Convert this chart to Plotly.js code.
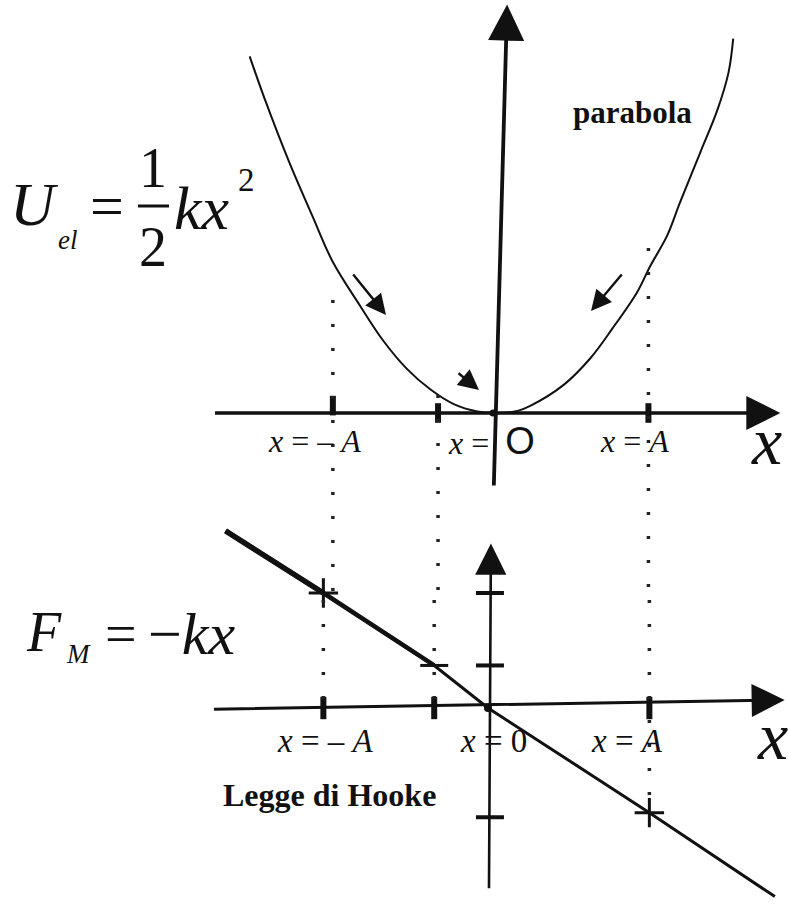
<!DOCTYPE html>
<html>
<head>
<meta charset="utf-8">
<script src="https://cdn.plot.ly/plotly-3.0.1.min.js"></script>
<style>html,body{margin:0;padding:0;background:#fff;}#plot{width:788px;height:905px;}</style>
</head>
<body>
<div id="plot"></div>
<script>
// ---- data (x in units of A) ----
// Top: elastic potential energy U_el (in units of kA^2/2)
const parabolaX = [-1.55, -1.45, -1.30, -1.15, -1.02, -0.85, -0.70, -0.55, -0.40, -0.25, -0.10, 0.00,
                    0.14, 0.24, 0.45, 0.62, 0.76, 0.92, 1.00, 1.11, 1.19, 1.32, 1.43, 1.50, 1.53];
const parabolaU = [2.41, 2.11, 1.70, 1.33, 1.02, 0.73, 0.49, 0.30, 0.16, 0.06, 0.01, 0.00,
                    0.01, 0.05, 0.19, 0.37, 0.57, 0.82, 0.99, 1.20, 1.42, 1.76, 2.05, 2.30, 2.53];
// Bottom: Hooke's law F_M (in units of kA)
const hookeX = [-1.61, -1.01, -0.33, 0.00, 0.99, 1.76];
const hookeF = [ 1.54,  1.00,  0.37, 0.00, -0.91, -1.64];
// marked positions on the x axes
const tickXTop = [-1.02, -0.35, 0.99];
const tickUTop = [0.05, 0.00, 0.00];
const tickXBot = [-1.01, -0.33, 0.99];
// marks on the vertical F axis
const tickFBot = [1.00, 0.37, -0.95];
// starred points on the Hooke line
const starX = [-1.01, 0.99];
const starF = [1.00, -0.91];
const midStarX = [-0.33];
const midStarF = [0.37];
// position labels (at x = -A, 0, A)
const labelXTop = [-1.02, 0, 0.99];
const labelXBot = [-1.01, 0, 0.99];
const labelsTop = ['<i>x</i> = \u2013 <i>A</i>',
                   '<i>x</i> =  <span style="font-family:Liberation Sans;font-size:38px">O</span>',
                   '<i>x</i> = <i>A</i>'];
const labelsBot = ['<i>x</i> = \u2013 <i>A</i>', '<i>x</i> = 0', '<i>x</i> = <i>A</i>'];

// ---- layout helpers ----
const W = 788, H = 905;
const PX = v => v / W, PY = v => 1 - v / H;
const ink = '#111';
const serif = 'Liberation Serif';

const traces = [];
// parabola
traces.push({x: parabolaX, y: parabolaU, xaxis: 'x', yaxis: 'y', mode: 'lines',
  line: {color: ink, width: 2, shape: 'spline', smoothing: 1}, hoverinfo: 'skip'});
// tick blobs top
traces.push({x: tickXTop, y: tickUTop, xaxis: 'x', yaxis: 'y', mode: 'markers',
  marker: {symbol: 'line-ns', size: 14, line: {color: ink, width: 6}}, hoverinfo: 'skip'});
// Hooke line (thicker on the left part)
traces.push({x: hookeX, y: hookeF, xaxis: 'x2', yaxis: 'y2', mode: 'lines',
  line: {color: ink, width: 3}, hoverinfo: 'skip'});
traces.push({x: hookeX.slice(0, 3), y: hookeF.slice(0, 3), xaxis: 'x2', yaxis: 'y2', mode: 'lines',
  line: {color: ink, width: 4.5}, hoverinfo: 'skip'});
traces.push({x: hookeX.slice(0, 2), y: hookeF.slice(0, 2), xaxis: 'x2', yaxis: 'y2', mode: 'lines',
  line: {color: ink, width: 5.5}, hoverinfo: 'skip'});
// ticks bottom
traces.push({x: tickXBot, y: [0, 0, 0], xaxis: 'x2', yaxis: 'y2', mode: 'markers',
  marker: {symbol: 'line-ns', size: 16, line: {color: ink, width: 6}}, hoverinfo: 'skip'});
traces.push({x: tickFBot.map(() => 0.012), y: tickFBot, xaxis: 'x2', yaxis: 'y2', mode: 'markers',
  marker: {symbol: 'line-ew', size: 20, line: {color: ink, width: 4}}, hoverinfo: 'skip'});
traces.push({x: starX, y: starF, xaxis: 'x2', yaxis: 'y2', mode: 'markers',
  marker: {symbol: 'cross-thin', size: 21, line: {color: ink, width: 3}}, hoverinfo: 'skip'});
traces.push({x: midStarX, y: midStarF, xaxis: 'x2', yaxis: 'y2', mode: 'markers',
  marker: {symbol: 'line-ew', size: 20, line: {color: ink, width: 3}}, hoverinfo: 'skip'});
traces.push({x: [0], y: [0], xaxis: 'x2', yaxis: 'y2', mode: 'markers',
  marker: {symbol: 'circle', size: 8, color: ink}, hoverinfo: 'skip'});
traces.push({x: [0], y: [0], xaxis: 'x', yaxis: 'y', mode: 'markers',
  marker: {symbol: 'circle', size: 7, color: ink}, hoverinfo: 'skip'});

const ann = [];
// axis arrows (data coordinates)
function axisArrow(xr, yr, x0, y0, x1, y1, w, s) {
  ann.push({xref: xr, yref: yr, axref: xr, ayref: yr, x: x1, y: y1, ax: x0, ay: y0,
    showarrow: true, arrowhead: 2, arrowsize: s, arrowwidth: w, arrowcolor: ink, standoff: 0, text: ''});
}
axisArrow('x', 'y', -1.78, 0, 1.83, 0, 3.4, 2.0);
axisArrow('x', 'y', 0.005, -0.50, 0.09, 2.76, 3.8, 1.9);
axisArrow('x2', 'y2', -1.69, -0.01, 1.82, 0.07, 3, 2.2);
axisArrow('x2', 'y2', 0.006, -1.58, 0.018, 1.43, 2.6, 2.4);

// small motion arrows on the parabola (pixel offsets)
function motion(hx, hy, dx, dy) {
  ann.push({xref: 'paper', yref: 'paper', x: PX(hx), y: PY(hy), ax: dx, ay: dy,
    showarrow: true, arrowhead: 2, arrowsize: 1.7, arrowwidth: 2.4, arrowcolor: ink, standoff: 0, text: ''});
}
motion(386, 315, -34, -42);
motion(479, 390, -22, -18);
motion(591, 311, 32, -38);

// axis position labels
labelXTop.forEach((v, i) => ann.push({xref: 'x', yref: 'y', x: v, y: 0, yshift: -28, xshift: [-18, -2, -14][i],
  xanchor: 'center', yanchor: 'middle',
  text: labelsTop[i], showarrow: false, font: {family: serif, size: 32, color: ink}}));
labelXBot.forEach((v, i) => ann.push({xref: 'x2', yref: 'y2', x: v, y: 0, yshift: -33, xshift: [2, 5, -22][i],
  xanchor: 'center', yanchor: 'middle',
  text: labelsBot[i], showarrow: false, font: {family: serif, size: 33, color: ink}}));

// free text (paper, pixel-based)
const T = (x, y, text, size, xa) => ann.push({xref: 'paper', yref: 'paper', x: PX(x), y: PY(y), text: text,
  showarrow: false, xanchor: xa || 'left', yanchor: 'middle', font: {family: serif, size: size, color: ink}});
// big x axis names
T(766, 441, '<i>x</i>', 68, 'center');
T(772, 736, '<i>x</i>', 68, 'center');
// formulas
T(8, 204, '<i>U</i>', 62);
T(56, 240, '<i>el</i>', 27);
T(88, 206, '=', 60);
T(153, 168, '1', 56, 'center');
T(153, 247, '2', 56, 'center');
T(172, 208, '<i>kx</i>', 62);
T(236, 180, '2', 33);
T(24, 632, '<i>F</i>', 56);
T(64, 654, '<i>M</i>', 27);
T(103, 634, '=', 56);
T(146, 634, '\u2212<i>kx</i>', 60);
// bold captions
T(632, 113, '<b>parabola</b>', 31, 'center');
T(329, 795, '<b>Legge di Hooke</b>', 32, 'center');

// dotted guide lines and fraction bar
const shapes = [];
const dotted = {color: '#222', width: 3.5, dash: '3px,21px'};
[[tickXTop[0], 300, 600], [tickXTop[1], 395, 600], [tickXTop[2], 248, 600]].forEach(d =>
  shapes.push({type: 'line', xref: 'x', yref: 'paper', x0: d[0], x1: d[0], y0: PY(d[1]), y1: PY(d[2]), line: dotted}));
[[tickXBot[0], 600, 700], [tickXBot[1], 600, 700], [tickXBot[2], 600, 805]].forEach(d =>
  shapes.push({type: 'line', xref: 'x2', yref: 'paper', x0: d[0], x1: d[0], y0: PY(d[1]), y1: PY(d[2]), line: dotted}));
shapes.push({type: 'line', xref: 'paper', yref: 'paper', x0: PX(138), x1: PX(169), y0: PY(206), y1: PY(206),
  line: {color: ink, width: 3}});

const hid = {visible: false, fixedrange: true, showgrid: false, zeroline: false};
const layout = {
  width: W, height: H, margin: {l: 0, r: 0, t: 0, b: 0},
  paper_bgcolor: '#fff', plot_bgcolor: 'rgba(0,0,0,0)', showlegend: false,
  xaxis: Object.assign({domain: [0, 1], range: [-493 / 157, 295 / 157]}, hid),
  yaxis: Object.assign({domain: [PY(500), 1], range: [-87 / 148, 413 / 148]}, hid),
  xaxis2: Object.assign({domain: [0, 1], range: [-488 / 163, 300 / 163], anchor: 'y2'}, hid),
  yaxis2: Object.assign({domain: [0, PY(500)], range: [-197 / 115, 208 / 115], anchor: 'x2'}, hid),
  annotations: ann, shapes: shapes
};
Plotly.newPlot('plot', traces, layout, {staticPlot: true, displayModeBar: false});
</script>
</body>
</html>
